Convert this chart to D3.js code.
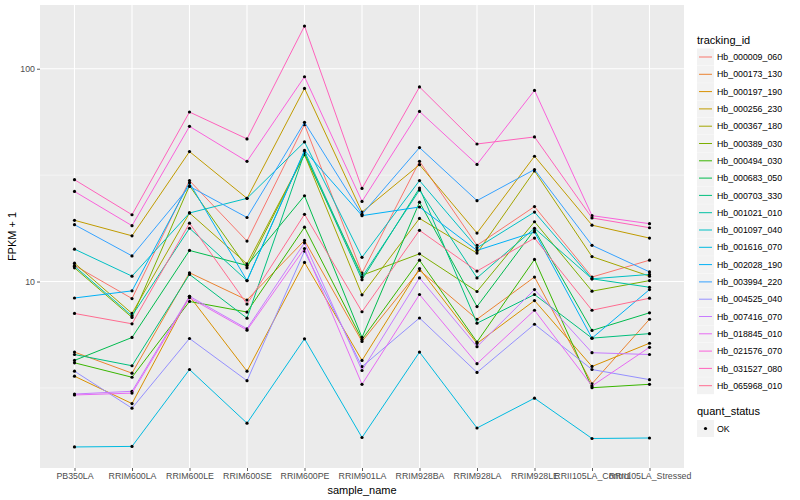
<!DOCTYPE html>
<html>
<head>
<meta charset="utf-8">
<script src="https://cdn.jsdelivr.net/npm/d3@7"></script>
<style>
  body { margin: 0; background: #fff; }
  text { font-family: "Liberation Sans", Arial, sans-serif; }
</style>
</head>
<body>
<svg id="chart" width="800" height="500"></svg>
<script>
// samples on the x axis
var samples = ["PB350LA", "RRIM600LA", "RRIM600LE", "RRIM600SE", "RRIM600PE", "RRIM901LA",
  "RRIM928BA", "RRIM928LA", "RRIM928LE", "RRII105LA_Control", "RRII105LA_Stressed"];

// tracking ids (legend order)
var trackingIds = ["Hb_000009_060", "Hb_000173_130", "Hb_000197_190", "Hb_000256_230", "Hb_000367_180",
  "Hb_000389_030", "Hb_000494_030", "Hb_000683_050", "Hb_000703_330", "Hb_001021_010",
  "Hb_001097_040", "Hb_001616_070", "Hb_002028_190", "Hb_003994_220", "Hb_004525_040",
  "Hb_007416_070", "Hb_018845_010", "Hb_021576_070", "Hb_031527_080", "Hb_065968_010"];

// FPKM + 1 per gene, one value per sample
var hb000009 = [11.9, 8.32, 29.8, 15.5, 54.6, 10.96, 36.7, 14.8, 22.5, 10.5, 12.6];
var hb000173 = [4.66, 3.71, 11.0, 8.19, 15.6, 5.23, 11.3, 6.65, 10.5, 3.31, 6.65];
var hb000197 = [3.59, 2.67, 8.53, 3.79, 12.3, 4.26, 11.5, 5.12, 8.14, 3.99, 5.13];
var hb000256 = [19.4, 16.4, 40.8, 24.6, 80.8, 21.2, 35.4, 16.9, 38.8, 18.4, 16.0];
var hb000367 = [12.2, 7.08, 21.0, 12.1, 39.5, 8.66, 19.8, 13.6, 33.1, 13.1, 10.6];
var hb000389 = [11.6, 6.78, 28.2, 11.6, 39.5, 10.7, 13.5, 8.98, 19.1, 9.01, 10.1];
var hb000494 = [4.15, 3.55, 8.06, 7.19, 18.0, 5.34, 12.6, 5.20, 12.7, 3.17, 3.29];
var hb000683 = [4.26, 5.46, 14.0, 11.9, 25.3, 5.46, 23.6, 7.63, 17.5, 5.89, 7.13];
var hb000703 = [4.54, 4.02, 10.8, 6.73, 40.2, 10.2, 27.5, 6.37, 8.69, 5.42, 5.69];
var hb001021 = [11.8, 6.90, 17.8, 10.1, 41.0, 10.5, 26.9, 10.4, 17.8, 10.3, 9.40];
var hb001097 = [14.2, 10.6, 21.0, 24.6, 45.3, 13.0, 29.8, 14.4, 21.2, 10.3, 10.8];
var hb001616 = [1.67, 1.68, 3.86, 2.16, 5.38, 1.85, 4.66, 2.05, 2.83, 1.83, 1.84];
var hb002028 = [8.37, 9.04, 29.1, 10.1, 41.3, 20.4, 22.4, 14.0, 17.1, 5.42, 9.17];
var hb003994 = [18.5, 13.2, 28.0, 20.0, 56.0, 20.7, 42.6, 24.0, 33.6, 14.8, 11.1];
var hb004525 = [3.79, 2.54, 5.40, 3.42, 13.9, 3.98, 6.74, 3.74, 6.30, 3.86, 3.46];
var hb007416 = [2.96, 3.05, 8.53, 6.00, 15.2, 3.82, 10.4, 4.94, 9.17, 4.63, 4.54];
var hb018845 = [2.93, 2.99, 8.39, 5.91, 14.3, 3.29, 8.69, 4.11, 7.33, 3.23, 4.91];
var hb021576 = [26.5, 18.3, 53.6, 36.7, 91.7, 23.8, 63.0, 35.5, 79.1, 20.4, 18.7];
var hb031527 = [30.1, 20.6, 62.6, 46.8, 158.7, 27.4, 82.1, 44.3, 47.8, 19.9, 17.9];
var hb065968 = [7.08, 6.33, 18.8, 7.84, 20.7, 7.21, 17.4, 11.2, 16.0, 7.33, 8.35];

var seriesValues = [hb000009, hb000173, hb000197, hb000256, hb000367, hb000389, hb000494,
  hb000683, hb000703, hb001021, hb001097, hb001616, hb002028, hb003994, hb004525, hb007416,
  hb018845, hb021576, hb031527, hb065968];

// ggplot hue palette, 20 levels
var palette = ["#F8766D", "#EA8331", "#D89000", "#C09B00", "#A3A500", "#7CAE00", "#39B600",
  "#00BB4E", "#00BF7D", "#00C1A3", "#00BFC4", "#00BAE0", "#00B0F6", "#35A2FF", "#9590FF",
  "#C77CFF", "#E76BF3", "#FA62DB", "#FF62BC", "#FF6C90"];

var yTicks = [10, 100];
var yMinor = [Math.sqrt(10), Math.sqrt(1000)];

var svg = d3.select("#chart");
var panel = { left: 40, top: 5, right: 684, bottom: 468 };

var allVals = d3.merge(seriesValues);
var lo = Math.log10(d3.min(allVals)), hi = Math.log10(d3.max(allVals));
var pad = (hi - lo) * 0.05;

var x = d3.scalePoint().domain(samples).range([panel.left, panel.right]).padding(0.6);
var y = d3.scaleLog().domain([Math.pow(10, lo - pad), Math.pow(10, hi + pad)])
  .range([panel.bottom, panel.top]);

// panel background
svg.append("rect").attr("x", panel.left).attr("y", panel.top)
  .attr("width", panel.right - panel.left).attr("height", panel.bottom - panel.top)
  .attr("fill", "#EBEBEB");

// grid
var grid = svg.append("g");
grid.selectAll(".minor").data(yMinor).enter().append("line")
  .attr("x1", panel.left).attr("x2", panel.right)
  .attr("y1", function(d) { return y(d); }).attr("y2", function(d) { return y(d); })
  .attr("stroke", "#fff").attr("stroke-width", 0.5);
grid.selectAll(".major").data(yTicks).enter().append("line")
  .attr("x1", panel.left).attr("x2", panel.right)
  .attr("y1", function(d) { return y(d); }).attr("y2", function(d) { return y(d); })
  .attr("stroke", "#fff").attr("stroke-width", 1.1);
grid.selectAll(".vert").data(samples).enter().append("line")
  .attr("x1", function(d) { return x(d); }).attr("x2", function(d) { return x(d); })
  .attr("y1", panel.top).attr("y2", panel.bottom)
  .attr("stroke", "#fff").attr("stroke-width", 1.1);

// axes
var yAxis = d3.axisLeft(y).tickValues(yTicks).tickFormat(d3.format("d")).tickSize(3).tickPadding(2);
var gy = svg.append("g").attr("transform", "translate(" + panel.left + ",0)").call(yAxis);
var xAxis = d3.axisBottom(x).tickSize(3).tickPadding(2);
var gx = svg.append("g").attr("transform", "translate(0," + panel.bottom + ")").call(xAxis);
[gx, gy].forEach(function(g) {
  g.select(".domain").remove();
  g.selectAll(".tick line").attr("stroke", "#333").attr("stroke-width", 0.8);
  g.selectAll(".tick text").attr("fill", "#4D4D4D").attr("font-size", "8.8px")
    .attr("font-family", "Liberation Sans, Arial, sans-serif");
});

// lines and points
var line = d3.line()
  .x(function(d, i) { return x(samples[i]); })
  .y(function(d) { return y(d); });

var series = svg.append("g").selectAll("g").data(seriesValues).enter().append("g");
series.append("path")
  .attr("d", function(d) { return line(d); })
  .attr("fill", "none")
  .attr("stroke", function(d, i) { return palette[i]; })
  .attr("stroke-width", 1);
series.selectAll("circle").data(function(d) { return d; }).enter().append("circle")
  .attr("cx", function(d, i) { return x(samples[i]); })
  .attr("cy", function(d) { return y(d); })
  .attr("r", 1.6).attr("fill", "#000");

// axis titles
svg.append("text").attr("x", (panel.left + panel.right) / 2).attr("y", 494)
  .attr("text-anchor", "middle").attr("font-size", "11px").text("sample_name");
svg.append("text").attr("transform", "translate(16," + (panel.top + panel.bottom) / 2 + ") rotate(-90)")
  .attr("text-anchor", "middle").attr("font-size", "11px").text("FPKM + 1");

// legend: tracking_id
var leg = svg.append("g").attr("transform", "translate(697,0)");
leg.append("text").attr("x", 0).attr("y", 44).attr("font-size", "11px").text("tracking_id");
var item = leg.selectAll(".item").data(trackingIds).enter().append("g")
  .attr("transform", function(d, i) { return "translate(0," + (48.5 + i * 17.3) + ")"; });
item.append("rect").attr("width", 17).attr("height", 17).attr("fill", "#F2F2F2");
item.append("line").attr("x1", 2).attr("x2", 15).attr("y1", 8.5).attr("y2", 8.5)
  .attr("stroke", function(d, i) { return palette[i]; }).attr("stroke-width", 1);
item.append("text").attr("x", 20).attr("y", 11.7).attr("font-size", "8.8px").text(function(d) { return d; });

// legend: quant_status
leg.append("text").attr("x", 0).attr("y", 415).attr("font-size", "11px").text("quant_status");
var ok = leg.append("g").attr("transform", "translate(0,420)");
ok.append("rect").attr("width", 17).attr("height", 17).attr("fill", "#F2F2F2");
ok.append("circle").attr("cx", 8.5).attr("cy", 8.5).attr("r", 1.6).attr("fill", "#000");
ok.append("text").attr("x", 20).attr("y", 11.7).attr("font-size", "8.8px").text("OK");
</script>
</body>
</html>
